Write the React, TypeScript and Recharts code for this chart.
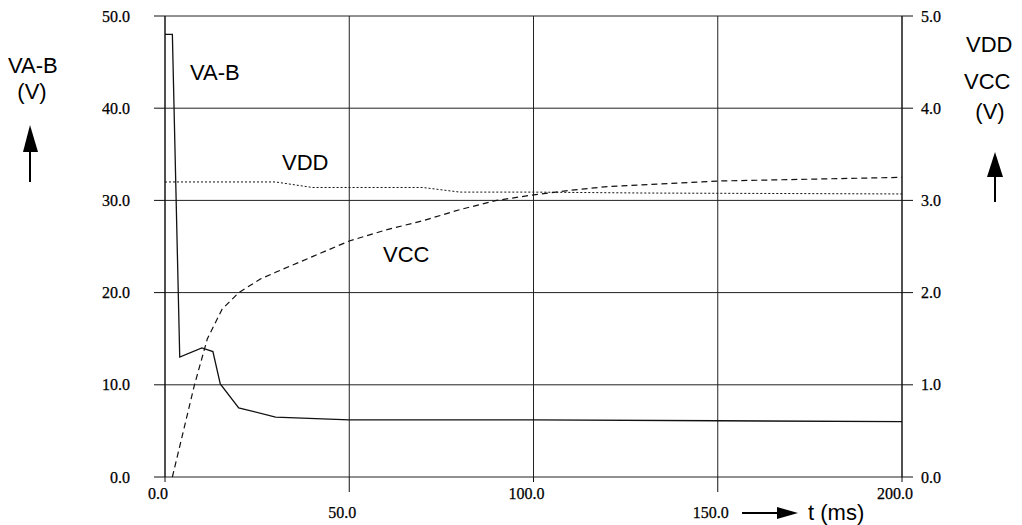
import React from 'react';
import { LineChart, Line, XAxis, YAxis, CartesianGrid } from 'recharts';

// time axis in ms, voltages
const vabTime = [0, 2, 4, 10, 13, 15, 20, 30, 50, 100, 150, 200];
const vabVolts = [48, 48, 13, 14, 13.6, 10.1, 7.5, 6.5, 6.2, 6.2, 6.1, 6.0];

const vddTime = [0, 30, 35, 40, 70, 80, 100, 130, 200];
const vddVolts = [3.2, 3.2, 3.17, 3.14, 3.14, 3.09, 3.09, 3.08, 3.07];

const vccTime = [2, 5, 8, 11.5, 15.5, 20, 26, 30, 40, 50, 60, 70, 80, 90, 100, 110, 120, 150, 200];
const vccVolts = [0, 0.5, 1.0, 1.5, 1.82, 2.0, 2.15, 2.22, 2.39, 2.56, 2.68, 2.78, 2.9, 3.0, 3.06, 3.11, 3.15, 3.21, 3.25];

const timeTicks = [0, 50, 100, 150, 200];
const leftTicks = [0, 10, 20, 30, 40, 50];
const rightTicks = [0, 1, 2, 3, 4, 5];

const zip = (ts: number[], vs: number[]) => ts.map((t, i) => ({ t, v: vs[i] }));
const vabData = zip(vabTime, vabVolts);
const vddData = zip(vddTime, vddVolts);
const vccData = zip(vccTime, vccVolts);

const serif = '"Liberation Serif", "Times New Roman", serif';
const sans = '"Liberation Sans", Arial, sans-serif';
const ink = '#111';

function TimeTick(props: any) {
  const { x, y, payload, index } = props;
  const low = index % 2 === 1;
  return (
    <g>
      <line x1={x} y1={y} x2={x} y2={y + (low ? 15 : 5)} stroke={ink} />
      <text
        x={x - 7}
        y={y + (low ? 41 : 22)}
        textAnchor="middle"
        fontFamily={serif}
        fontSize={16}
        fill="#000"
        stroke="#000"
        strokeWidth={0.25}
      >
        {payload.value.toFixed(1)}
      </text>
    </g>
  );
}

export default function App() {
  const tickStyle = { fontFamily: serif, fontSize: 16, fill: '#000', stroke: '#000', strokeWidth: 0.25 };
  return (
    <div style={{ position: 'absolute', left: 0, top: 0, width: 1022, height: 525, background: '#fff' }}>
      <LineChart width={1022} height={525} margin={{ top: 16, right: 0, bottom: 0, left: 0 }}>
        <CartesianGrid yAxisId="left" stroke="#222" strokeWidth={1} />
        <XAxis
          dataKey="t"
          type="number"
          domain={[0, 200]}
          ticks={timeTicks}
          height={48}
          axisLine={false}
          tickLine={false}
          tickSize={0}
          tickMargin={0}
          tick={<TimeTick />}
          interval={0}
        />
        <YAxis
          yAxisId="left"
          domain={[0, 50]}
          ticks={leftTicks}
          width={165}
          tickSize={11}
          tickMargin={24}
          tickFormatter={(v: number) => v.toFixed(1)}
          tick={tickStyle}
          axisLine={{ stroke: ink }}
          tickLine={{ stroke: ink }}
        />
        <YAxis
          yAxisId="right"
          orientation="right"
          domain={[0, 5]}
          ticks={rightTicks}
          width={120}
          tickSize={11}
          tickMargin={8}
          tickFormatter={(v: number) => v.toFixed(1)}
          tick={tickStyle}
          axisLine={{ stroke: ink }}
          tickLine={{ stroke: ink }}
        />
        <Line
          yAxisId="left"
          data={vabData}
          dataKey="v"
          type="linear"
          stroke={ink}
          strokeWidth={1.3}
          dot={false}
          isAnimationActive={false}
        />
        <Line
          yAxisId="right"
          data={vddData}
          dataKey="v"
          type="linear"
          stroke={ink}
          strokeWidth={1}
          strokeDasharray="2 2"
          dot={false}
          isAnimationActive={false}
        />
        <Line
          yAxisId="right"
          data={vccData}
          dataKey="v"
          type="linear"
          stroke={ink}
          strokeWidth={1.2}
          strokeDasharray="6 4"
          dot={false}
          isAnimationActive={false}
        />
      </LineChart>
      <svg
        width={1022}
        height={525}
        style={{ position: 'absolute', left: 0, top: 0, pointerEvents: 'none' }}
        fontFamily={sans}
        fontSize={22}
        fill="#000"
      >
        {/* left axis title */}
        <text x={8} y={73}>VA-B</text>
        <text x={32} y={99} textAnchor="middle">(V)</text>
        <line x1={30} y1={150} x2={30} y2={182} stroke="#000" strokeWidth={2} />
        <polygon points="23,152 38,152 30,125" />
        {/* right axis title */}
        <text x={966} y={52}>VDD</text>
        <text x={964} y={89}>VCC</text>
        <text x={990} y={119} textAnchor="middle">(V)</text>
        <line x1={995} y1={175} x2={995} y2={202} stroke="#000" strokeWidth={2} />
        <polygon points="987,177 1003,177 995,152" />
        {/* series names */}
        <text x={190} y={80}>VA-B</text>
        <text x={282} y={170}>VDD</text>
        <text x={383} y={262}>VCC</text>
        {/* time axis title */}
        <line x1={742} y1={513} x2={780} y2={513} stroke="#000" strokeWidth={2} />
        <polygon points="777,507 777,519 798,513" />
        <text x={808} y={520}>t (ms)</text>
      </svg>
    </div>
  );
}
